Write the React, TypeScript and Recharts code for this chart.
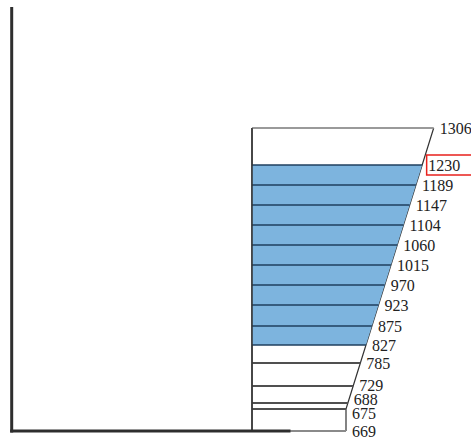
import React from 'react';
import { ComposedChart, Area, XAxis, YAxis, ReferenceLine, ReferenceDot } from 'recharts';

// levels shown on the slanted side, bottom to top
const levelValues = [669, 675, 688, 729, 785, 827, 875, 923, 970, 1015, 1060, 1104, 1147, 1189, 1230, 1306];
// height of each level above the base line
const levelHeights = [0, 22, 28, 45, 68, 86, 105, 126, 146, 166, 186, 206, 226, 246, 266, 303];
// the shaded band runs between these two levels
const filledFrom = 827;
const filledTo = 1230;
const highlightedValue = 1230;

const W = 471;
const H = 443;
const LEFT = 252;
const BASE_RIGHT = 346;
const TOP_RIGHT = 433.7;
const SLOPE_START = levelHeights[1];
const TOP_H = Math.max(...levelHeights);
const FONT = "'Liberation Serif', 'Times New Roman', serif";

const edgeX = (h: number) =>
  h <= SLOPE_START ? BASE_RIGHT : BASE_RIGHT + ((h - SLOPE_START) * (TOP_RIGHT - BASE_RIGHT)) / (TOP_H - SLOPE_START);

const isFilled = (v: number) => v >= filledFrom && v <= filledTo;

const rows = levelValues.map((v, i) => {
  const h = levelHeights[i];
  return {
    value: v,
    h,
    outline: [LEFT, edgeX(h)],
    fill: isFilled(v) ? [LEFT, edgeX(h)] : null,
  };
});

// push labels apart a little where levels sit close together
const spreadLabels = (hs: number[], gap: number) => {
  const out = [...hs];
  for (let iter = 0; iter < 20; iter++) {
    for (let i = 1; i < out.length; i++) {
      const d = out[i] - out[i - 1];
      if (d < gap) {
        const s = (gap - d) / 2;
        out[i] += s;
        out[i - 1] -= s;
      }
    }
  }
  return out;
};
const labelHeights = spreadLabels(levelHeights, 14);

const lineColor = (v: number) => {
  if (v === levelValues[levelValues.length - 1]) return '#9a9a9a';
  if (v === levelValues[0]) return '#8a8a8a';
  if (isFilled(v)) return '#1f3f5e';
  return '#505050';
};

const LevelLabel = (props: any) => {
  const { cx, cy, text, lineX } = props;
  if (cx == null || cy == null) return null;
  const tx = lineX + 6;
  return (
    <g>
      {text === highlightedValue && (
        <rect x={tx - 1.5} y={cy - 10} width={50} height={20} fill="none" stroke="#e8211c" strokeWidth={1.5} />
      )}
      <text
        x={tx}
        y={cy}
        dominantBaseline="central"
        fontSize={16}
        fill="#222"
        style={{ fontFamily: FONT }}
      >
        {text}
      </text>
    </g>
  );
};

export default function App() {
  return (
    <div style={{ position: 'absolute', left: 0, top: 0, width: W, height: H, background: '#fff' }}>
      <ComposedChart
        width={W}
        height={H}
        data={rows}
        layout="vertical"
        margin={{ top: 0, right: 0, bottom: 0, left: 0 }}
      >
        <XAxis type="number" dataKey="value" domain={[0, W]} allowDataOverflow hide />
        <YAxis type="number" dataKey="h" domain={[-(H - 431), 431]} allowDataOverflow reversed hide />
        <Area
          type="linear"
          dataKey="outline"
          fill="#ffffff"
          fillOpacity={1}
          stroke="#333"
          strokeWidth={1.2}
          dot={false}
          activeDot={false}
          isAnimationActive={false}
        />
        <Area
          type="linear"
          dataKey="fill"
          fill="#7db4de"
          fillOpacity={1}
          stroke="none"
          connectNulls={false}
          dot={false}
          activeDot={false}
          isAnimationActive={false}
        />
        {rows.map((r) => (
          <ReferenceLine
            key={'l' + r.value}
            segment={[{ x: LEFT, y: r.h }, { x: edgeX(r.h), y: r.h }]}
            stroke={lineColor(r.value)}
            strokeWidth={isFilled(r.value) ? 1.5 : 2}
            ifOverflow="visible"
          />
        ))}
        <ReferenceLine
          segment={[{ x: LEFT, y: 0 }, { x: LEFT, y: TOP_H }]}
          stroke="#333"
          strokeWidth={1.5}
          ifOverflow="visible"
        />
        <ReferenceLine
          segment={[{ x: 11.7, y: -1.5 }, { x: 11.7, y: 424 }]}
          stroke="#2e2e2e"
          strokeWidth={3}
          ifOverflow="visible"
        />
        <ReferenceLine
          segment={[{ x: 10.2, y: 0 }, { x: 290.5, y: 0 }]}
          stroke="#2e2e2e"
          strokeWidth={3}
          ifOverflow="visible"
        />
        {rows.map((r, i) => (
          <ReferenceDot
            key={'t' + r.value}
            x={edgeX(r.h)}
            y={labelHeights[i]}
            r={0}
            ifOverflow="visible"
            shape={(p: any) => <LevelLabel {...p} text={r.value} lineX={edgeX(r.h)} />}
          />
        ))}
      </ComposedChart>
    </div>
  );
}
